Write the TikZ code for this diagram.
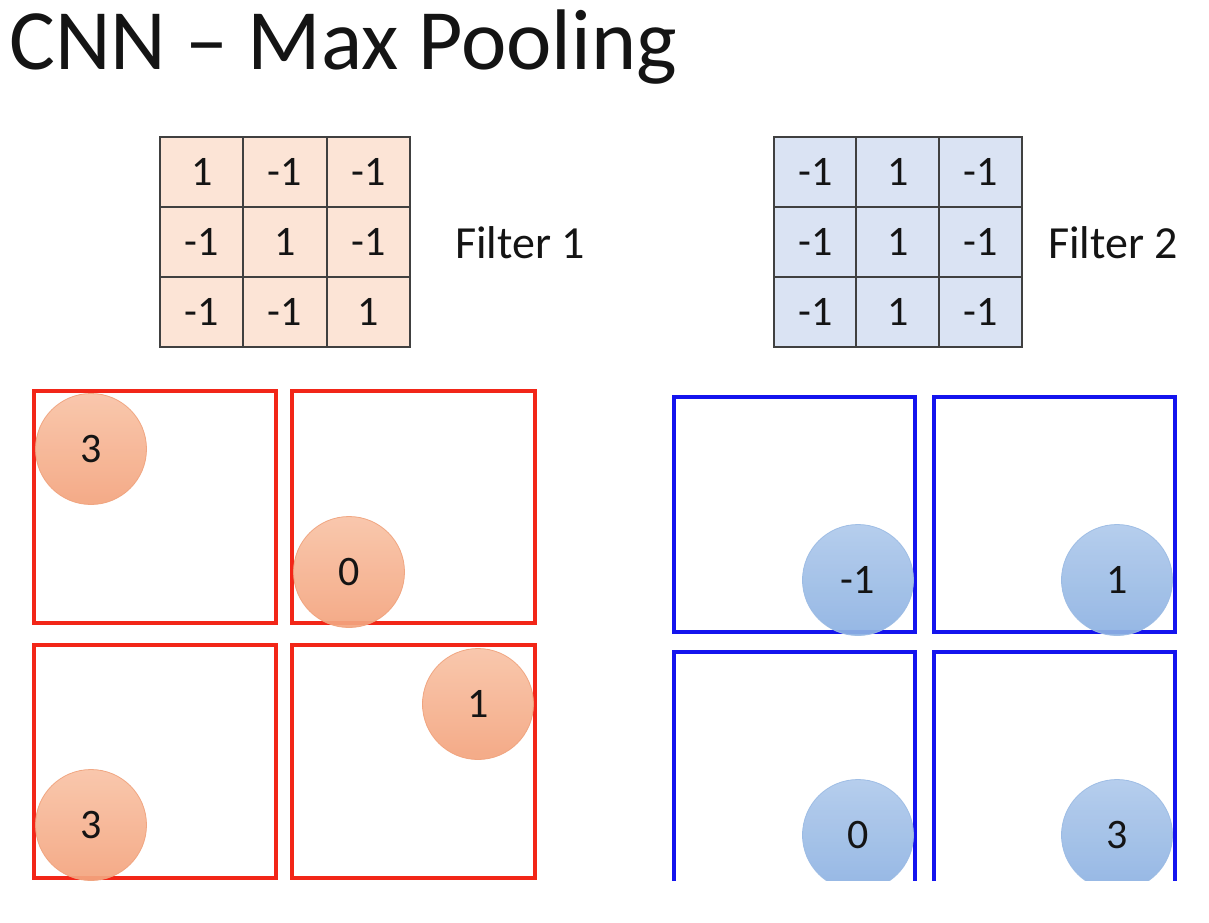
\documentclass[tikz,border=0pt]{standalone}
\usepackage{fontspec}
\setmainfont{Carlito}
\definecolor{peachcell}{HTML}{FCE4D6}
\definecolor{bluecell}{HTML}{DAE3F3}
\definecolor{gridline}{HTML}{404040}
\definecolor{poolred}{HTML}{F22618}
\definecolor{poolblue}{HTML}{1414EE}
\definecolor{orgtop}{HTML}{F9C3A6}
\definecolor{orgbot}{HTML}{F4A47E}
\definecolor{orgedge}{HTML}{F0A27C}
\definecolor{blutop}{HTML}{B0CAEC}
\definecolor{blubot}{HTML}{8DB2E2}
\definecolor{bluedge}{HTML}{9BBBE4}
\definecolor{txt}{HTML}{141414}
\tikzset{
  cellA/.style={draw=gridline, line width=1.8pt, fill=peachcell, minimum width=83.3pt, minimum height=70pt, inner sep=0pt, font=\fontsize{42}{42}\selectfont, text=txt},
  cellB/.style={cellA, fill=bluecell},
  flabel/.style={anchor=west, inner sep=0pt, font=\fontsize{46}{46}\selectfont, text=txt},
  redbox/.style={draw=poolred, line width=4pt, inner sep=0pt},
  bluebox/.style={draw=poolblue, line width=4pt, inner sep=0pt},
  orgdot/.style={circle, minimum size=111pt, inner sep=0pt, top color=orgtop, bottom color=orgbot, draw=orgedge, line width=0.8pt, opacity=0.92, text opacity=1, font=\fontsize{42}{42}\selectfont, text=txt},
  bludot/.style={orgdot, top color=blutop, bottom color=blubot, draw=bluedge}
}
\begin{document}
\begin{tikzpicture}[x=1pt,y=-1pt]
\useasboundingbox (0,0) rectangle (1209,922);
\fill[white] (0,0) rectangle (1209,922);

% title
\node[anchor=west, inner sep=0pt, font=\fontsize{86}{86}\selectfont, text=txt] (title) at (9,47) {CNN -- Max Pooling};

% filter 1
\foreach \r/\a/\b/\c in {0/1/-1/-1, 1/-1/1/-1, 2/-1/-1/1} {
  \node[cellA] (fA-\r-0) at (201.7,{172+70*\r}) {\a};
  \node[cellA] (fA-\r-1) at (285,{172+70*\r}) {\b};
  \node[cellA] (fA-\r-2) at (368.3,{172+70*\r}) {\c};
}
\node[flabel] (labA) at (455,243) {Filter 1};

% filter 2
\foreach \r/\a/\b/\c in {0/-1/1/-1, 1/-1/1/-1, 2/-1/1/-1} {
  \node[cellB] (fB-\r-0) at (815.3,{172+70*\r}) {\a};
  \node[cellB] (fB-\r-1) at (898,{172+70*\r}) {\b};
  \node[cellB] (fB-\r-2) at (980.7,{172+70*\r}) {\c};
}
\node[flabel] (labB) at (1048,243) {Filter 2};

\begin{scope}
\clip (0,0) rectangle (1209,880);
% red pooling boxes
\node[redbox, minimum width=242pt, minimum height=232pt] (rA) at (155,507) {};
\node[redbox, minimum width=243pt, minimum height=232pt] (rB) at (413.5,507) {};
\node[redbox, minimum width=242pt, minimum height=233pt] (rC) at (155,761.5) {};
\node[redbox, minimum width=243pt, minimum height=233pt] (rD) at (413.5,761.5) {};
% blue pooling boxes
\node[bluebox, minimum width=241pt, minimum height=235pt] (bA) at (794.5,514.5) {};
\node[bluebox, minimum width=241pt, minimum height=235pt] (bB) at (1054.5,514.5) {};
\node[bluebox, minimum width=241pt, minimum height=260pt] (bC) at (794.5,782) {};
\node[bluebox, minimum width=241pt, minimum height=260pt] (bD) at (1054.5,782) {};
% max values
\node[orgdot] (mA) at (91,449) {3};
\node[orgdot] (mB) at (349,572) {0};
\node[orgdot] (mC) at (91,825) {3};
\node[orgdot] (mD) at (478,704) {1};
\node[bludot] (nA) at (858,580) {-1};
\node[bludot] (nB) at (1117,580) {1};
\node[bludot] (nC) at (858,835) {0};
\node[bludot] (nD) at (1117,835) {3};
\end{scope}
\end{tikzpicture}
\end{document}
